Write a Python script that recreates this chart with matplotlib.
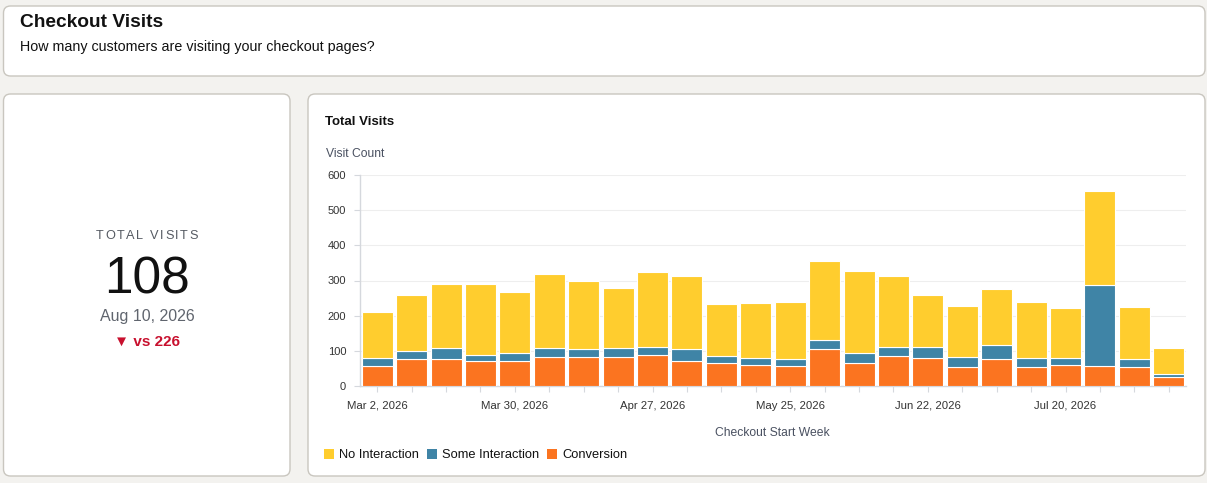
import matplotlib
matplotlib.use("Agg")
import matplotlib.pyplot as plt
from matplotlib.patches import FancyBboxPatch, Rectangle
import numpy as np

plt.rcParams['font.family'] = ['Liberation Sans', 'DejaVu Sans']

# ---- data ----
weeks = ["Mar 2, 2026", "Mar 9, 2026", "Mar 16, 2026", "Mar 23, 2026",
         "Mar 30, 2026", "Apr 6, 2026", "Apr 13, 2026", "Apr 20, 2026",
         "Apr 27, 2026", "May 4, 2026", "May 11, 2026", "May 18, 2026",
         "May 25, 2026", "Jun 1, 2026", "Jun 8, 2026", "Jun 15, 2026",
         "Jun 22, 2026", "Jun 29, 2026", "Jul 6, 2026", "Jul 13, 2026",
         "Jul 20, 2026", "Jul 27, 2026", "Aug 3, 2026", "Aug 10, 2026"]
conversion = [57, 77, 77, 71, 71, 83, 83, 83, 88, 72, 65, 60,
              58, 105, 64, 84, 81, 55, 78, 55, 60, 57, 54, 27]
some_interaction = [23, 22, 31, 17, 24, 24, 21, 25, 22, 34, 20, 21,
                    18, 27, 31, 28, 29, 27, 39, 25, 21, 229, 24, 8]
no_interaction = [131, 160, 182, 201, 173, 212, 196, 172, 215, 206, 148, 154,
                  164, 224, 231, 202, 149, 146, 160, 158, 142, 269, 148, 73]
series_names = ["No Interaction", "Some Interaction", "Conversion"]
series_colors = ["#FFCD2E", "#3F84A6", "#FB7420"]
kpi_label = "TOTAL VISITS"
kpi_value = "108"
kpi_date = "Aug 10, 2026"
kpi_prev = "226"
y_ticks = [0, 100, 200, 300, 400, 500, 600]

W, H = 1207, 483
fig = plt.figure(figsize=(W / 100, H / 100), dpi=100)
fig.patch.set_facecolor("#F3F2EF")

# background overlay in pixel coords
bg = fig.add_axes([0, 0, 1, 1])
bg.set_xlim(0, W)
bg.set_ylim(H, 0)
bg.axis("off")
bg.set_zorder(0)

def panel(x0, y0, x1, y1):
    p = FancyBboxPatch((x0, y0), x1 - x0, y1 - y0,
                       boxstyle="round,pad=0,rounding_size=7",
                       facecolor="white", edgecolor="#C9C6BF", linewidth=1.0)
    bg.add_patch(p)

panel(3.5, 6, 1205, 76)
panel(3.5, 94, 290, 476)
panel(308, 94, 1205, 476)

# header texts
bg.text(20, 26.8, "Checkout Visits", fontsize=13.8, fontweight="bold",
        color="#111111", va="baseline", ha="left")
bg.text(20, 50.8, "How many customers are visiting your checkout pages?",
        fontsize=10.3, color="#111111", va="baseline", ha="left")

# KPI panel: letter-spaced label
fig.canvas.draw()
renderer = fig.canvas.get_renderer()
spacing = 1.6
chars = []
widths = []
for ch in kpi_label:
    t = bg.text(0, 239, ch, fontsize=9.2, color="#555A62", va="baseline", ha="left")
    chars.append(t)
    if ch == " ":
        widths.append(3.2)
    else:
        widths.append(t.get_window_extent(renderer).width)
total_w = sum(widths) + spacing * (len(widths) - 1)
cx = 147 - total_w / 2
for t, w in zip(chars, widths):
    t.set_x(cx)
    cx += w + spacing

bg.text(147, 293, kpi_value, fontsize=37, color="#111111",
        va="baseline", ha="center")
bg.text(147, 321.5, kpi_date, fontsize=11.5, color="#60656E",
        va="baseline", ha="center")
bg.text(147, 345.5, "\u25BC vs " + kpi_prev, fontsize=11, fontweight="bold",
        color="#C8102E", va="baseline", ha="center")

# chart panel texts
bg.text(325, 125, "Total Visits", fontsize=9.5, fontweight="bold",
        color="#111111", va="baseline", ha="left")
bg.text(326, 157, "Visit Count", fontsize=8.7, color="#4A5161",
        va="baseline", ha="left")
bg.text(772, 435.5, "Checkout Start Week", fontsize=8.7, color="#4A5161",
        va="baseline", ha="center")

# legend
lx = 324
for name, col in zip(series_names, series_colors):
    bg.add_patch(Rectangle((lx, 449), 10, 10, facecolor=col, edgecolor="none"))
    t = bg.text(lx + 15, 458.5, name, fontsize=9.3, color="#111111",
                va="baseline", ha="left")
    bb = t.get_window_extent(renderer)
    lx = bb.x1 + 8

# ---- chart axes ----
left, right, top, bottom = 360, 1186, 175, 386
ax = fig.add_axes([left / W, 1 - bottom / H, (right - left) / W, (bottom - top) / H])
ax.set_zorder(1)
ax.patch.set_alpha(0)

x = np.arange(len(weeks))
conv = np.array(conversion)
some = np.array(some_interaction)
none_ = np.array(no_interaction)
bw = 0.9
kw = dict(width=bw, edgecolor="#FFFFFF", linewidth=0.8, zorder=3)
ax.bar(x, conv, color=series_colors[2], **kw)
ax.bar(x, some, bottom=conv, color=series_colors[1], **kw)
ax.bar(x, none_, bottom=conv + some, color=series_colors[0], **kw)

ax.set_xlim(-0.5, len(weeks) - 0.5)
ax.set_ylim(0, 600)
ax.set_yticks(y_ticks)
ax.set_yticklabels([str(v) for v in y_ticks], fontsize=8, color="#333333")
ax.yaxis.grid(True, color="#EEEEEE", linewidth=0.8, zorder=0)
ax.set_axisbelow(True)

ax.set_xticks(x)
ax.set_xticklabels([w if i % 4 == 0 else "" for i, w in enumerate(weeks)],
                   fontsize=8.2, color="#333333")
ax.tick_params(axis="x", length=4, color="#D5D8DD", pad=6.5)
ax.tick_params(axis="y", length=4, color="#D5D8DD", pad=6)

for s in ["top", "right"]:
    ax.spines[s].set_visible(False)
for s in ["left", "bottom"]:
    ax.spines[s].set_color("#D5D8DD")
    ax.spines[s].set_linewidth(1.0)

fig.savefig("out.png", dpi=100, facecolor=fig.get_facecolor())
